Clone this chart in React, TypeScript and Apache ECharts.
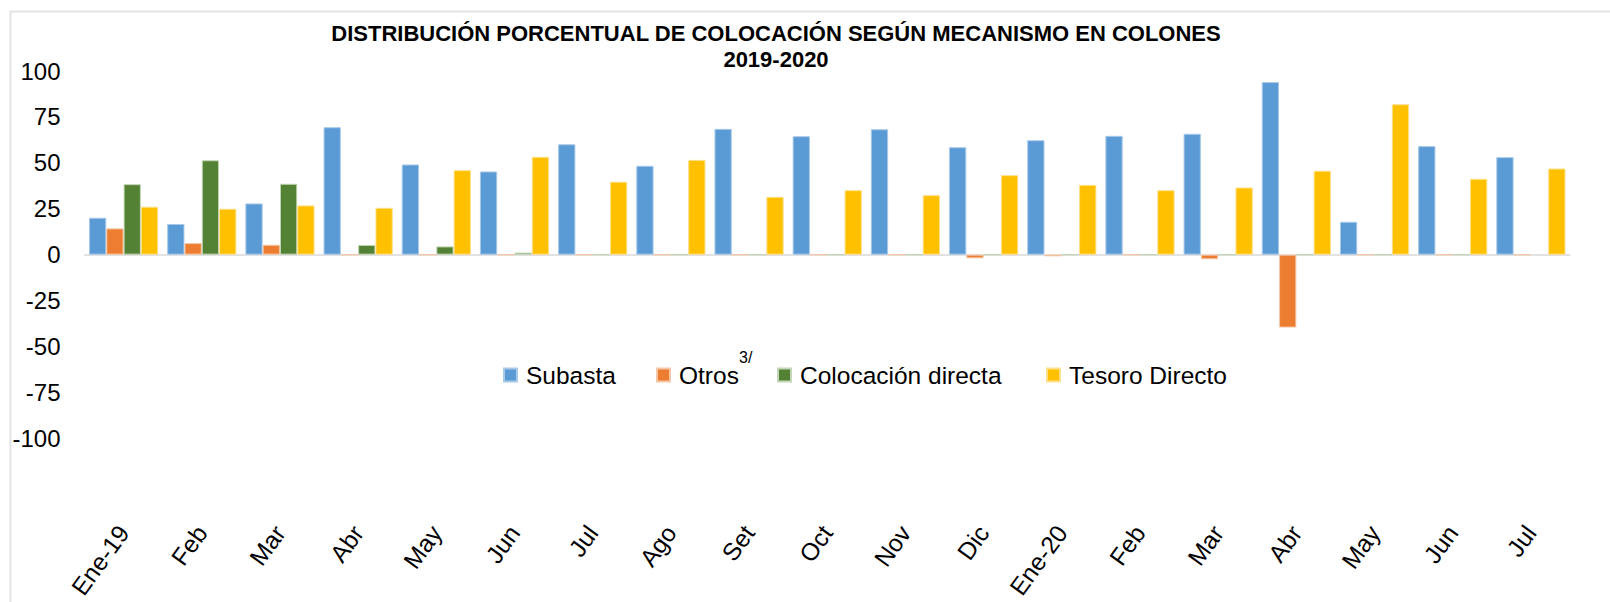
import React, { useEffect, useRef } from "react";
import * as echarts from "echarts";

const months = ["Ene-19", "Feb", "Mar", "Abr", "May", "Jun", "Jul", "Ago", "Set", "Oct", "Nov", "Dic", "Ene-20", "Feb", "Mar", "Abr", "May", "Jun", "Jul"];
const subasta = [20.1, 16.7, 27.9, 69.4, 49.1, 45.3, 60.1, 48.4, 68.5, 64.5, 68.3, 58.5, 62.3, 64.7, 65.8, 94.0, 17.9, 59.1, 53.1];
const otros = [14.3, 6.3, 5.4, 0, 0, 0, 0, 0, 0, 0, 0, -2.0, -0.9, 0, -2.5, -39.7, 0, 0, 0];
const colocacion = [38.4, 51.4, 38.6, 5.3, 4.5, 1.1, 0, 0, 0, 0, 0, 0, 0, 0, 0, 0, 0, 0, null];
const tesoro = [26.1, 25.0, 26.8, 25.5, 46.0, 53.3, 39.7, 51.6, 31.5, 35.1, 32.4, 43.3, 38.0, 35.1, 36.6, 45.7, 81.9, 41.3, 46.9];
const seriesNames = ["Subasta", "Otros", "Colocación directa", "Tesoro Directo"];
const yTicks = { min: -100, max: 100, interval: 25 };
const titleText = "DISTRIBUCIÓN PORCENTUAL DE COLOCACIÓN SEGÚN MECANISMO EN COLONES\n2019-2020";
const superscript = "3/";

const colors = ["#5B9BD5", "#ED7D31", "#548235", "#FFC000"];
const borders = ["#A8C9EA", "#F6C7A6", "#C3D6B6", "#FFE08A"];
const FONT = "'Liberation Sans', Arial, sans-serif";

export default function App() {
  const ref = useRef<HTMLDivElement>(null);
  useEffect(() => {
    if (!ref.current) return;
    const chart = echarts.init(ref.current, null, { renderer: "svg" });
    const values = [subasta, otros, colocacion, tesoro];
    const legendLefts = [503, 656, 777, 1046];
    chart.setOption({
      animation: false,
      backgroundColor: "#fff",
      textStyle: { fontFamily: FONT },
      title: {
        text: titleText,
        left: 776,
        top: 20,
        textAlign: "center",
        padding: 0,
        textStyle: { fontFamily: FONT, fontSize: 22, fontWeight: "bold", color: "#000", lineHeight: 26 },
      },
      legend: seriesNames.map((n, i) => ({
        data: [n],
        left: legendLefts[i],
        top: 361,
        padding: 0,
        itemWidth: 13,
        itemHeight: 13,
        icon: "rect",
        textStyle: { fontFamily: FONT, fontSize: 24.5, color: "#000", padding: [0, 0, 0, 4], lineHeight: 28 },
      })),
      grid: { left: 84.5, right: 40, top: 71, bottom: 163, containLabel: false },
      xAxis: [
        {
          type: "category",
          data: months,
          position: "bottom",
          axisLine: { show: false, onZero: false },
          axisTick: { show: false },
          splitLine: { show: false },
          axisLabel: { rotate: 54, margin: 90, fontSize: 24.5, color: "#000", fontFamily: FONT, interval: 0 },
        },
        {
          type: "category",
          data: months,
          position: "bottom",
          axisLine: { show: true, onZero: true, lineStyle: { color: "#D9D9D9", width: 1.5 } },
          axisTick: { show: false },
          axisLabel: { show: false },
          splitLine: { show: false },
        },
      ],
      yAxis: {
        type: "value",
        min: yTicks.min,
        max: yTicks.max,
        interval: yTicks.interval,
        axisLine: { show: false },
        axisTick: { show: false },
        splitLine: { show: false },
        axisLabel: { margin: 24, fontSize: 24, color: "#000", fontFamily: FONT },
      },
      series: values.map((d, i) => ({
        name: seriesNames[i],
        type: "bar",
        data: d,
        xAxisIndex: 0,
        barGap: "0%",
        barCategoryGap: "11.5%",
        itemStyle: { color: colors[i], borderColor: borders[i], borderWidth: 1 },
      })),
      graphic: [
        { type: "line", shape: { x1: 10.5, y1: 11, x2: 10.5, y2: 602 }, style: { stroke: "#E3E3E3", lineWidth: 2 }, silent: true },
        { type: "line", shape: { x1: 10, y1: 11.5, x2: 1610, y2: 11.5 }, style: { stroke: "#E3E3E3", lineWidth: 2 }, silent: true },
        { type: "text", left: 739, top: 349, style: { text: superscript, fontFamily: FONT, fontSize: 16, fill: "#000" } },
      ],
    });
    return () => chart.dispose();
  }, []);
  return <div ref={ref} style={{ position: "absolute", left: 0, top: 0, width: 1610, height: 602 }} />;
}
